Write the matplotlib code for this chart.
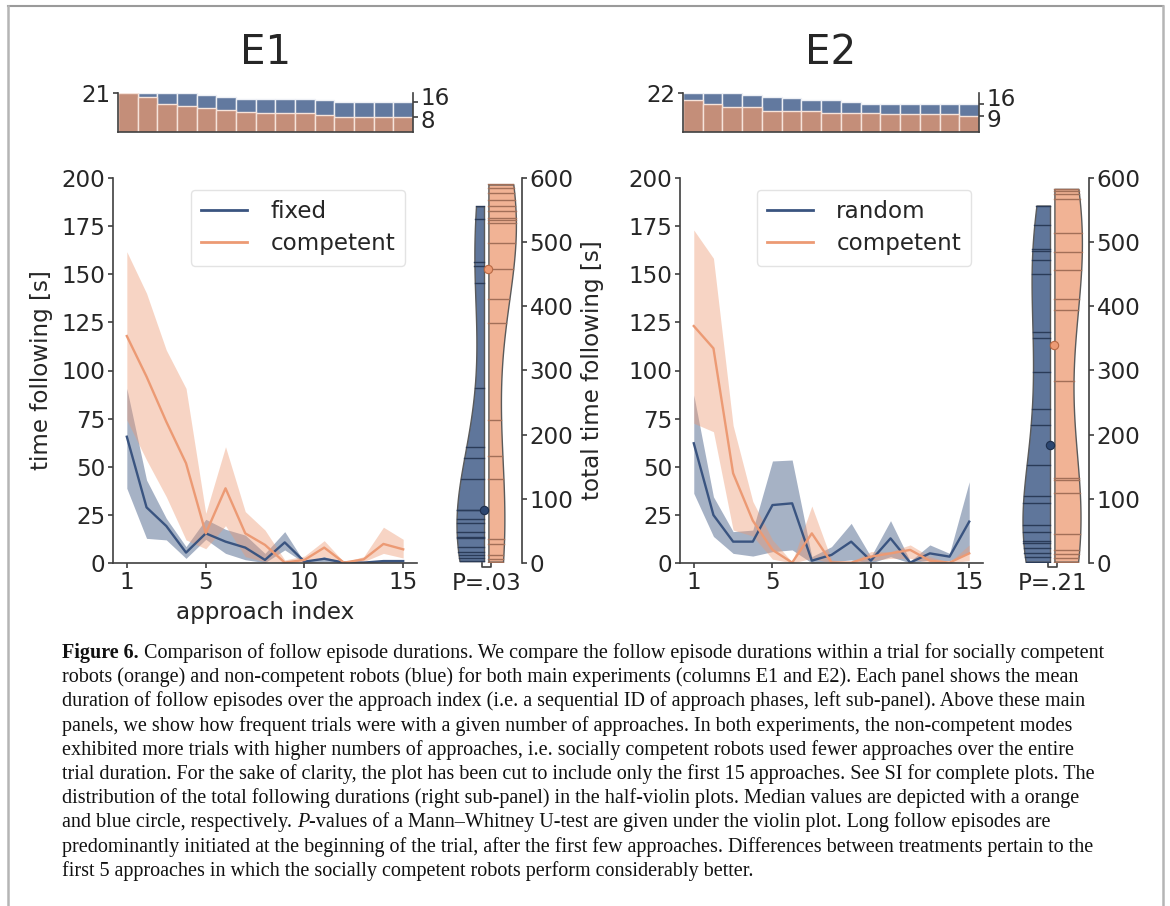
import numpy as np
import matplotlib
matplotlib.use("Agg")
import matplotlib.pyplot as plt
from matplotlib.lines import Line2D

# ---------------- DATA ----------------
approach = np.arange(1, 16)
xticks_main = [1, 5, 10, 15]

# histograms: number of trials with at least k approaches
e1_hist_fixed = [21, 21, 21, 21, 20, 19, 18, 18, 18, 18, 17, 16, 16, 16, 16]
e1_hist_comp = [21, 19, 15, 14, 13, 12, 11, 10, 10, 10, 9, 8, 8, 8, 8]
e2_hist_random = [22, 22, 22, 21, 20, 19, 18, 18, 17, 16, 16, 16, 16, 16, 16]
e2_hist_comp = [18, 16, 14, 14, 12, 12, 12, 11, 11, 11, 10, 10, 10, 10, 9]

# E1 mean time following and CI band
e1_fixed_mean = [65.6, 28.9, 19.2, 5.4, 15.4, 11.1, 8.0, 1.6, 10.7, 0.7, 2.2, 0.2, 0.2, 1.0, 1.0]
e1_fixed_lo = [38.8, 12.8, 12.0, 2.4, 12.3, 5.0, 1.7, 0.2, 6.8, 0.0, 0.7, 0.0, 0.0, 0.5, 0.5]
e1_fixed_hi = [90.7, 43.1, 23.2, 8.5, 22.7, 17.5, 14.5, 5.0, 16.3, 0.3, 3.3, 0.3, 0.5, 1.5, 1.5]
e1_comp_mean = [117.9, 96.8, 73.4, 51.8, 15.4, 38.8, 15.4, 9.4, 0.2, 1.6, 8.0, 0.2, 1.9, 9.9, 7.1]
e1_comp_lo = [74.3, 53.5, 34.4, 12.0, 7.4, 19.4, 3.3, 0.7, 0.0, 0.7, 3.3, 0.0, 0.7, 5.0, 2.6]
e1_comp_hi = [161.7, 140.1, 110.6, 90.7, 25.8, 60.4, 26.7, 17.1, 1.6, 3.6, 11.6, 0.5, 3.3, 18.6, 12.3]

# E2 mean time following and CI band
e2_rand_mean = [62.2, 24.9, 11.1, 11.1, 30.1, 31.0, 1.2, 4.2, 11.1, 1.2, 12.8, 0.2, 5.0, 3.3, 21.5]
e2_rand_lo = [36.2, 13.8, 5.0, 3.6, 5.9, 6.8, 0.0, 0.7, 1.6, 0.0, 3.3, 0.0, 1.6, 1.2, 5.0]
e2_rand_hi = [87.3, 34.4, 16.3, 17.1, 53.0, 53.5, 3.3, 8.5, 20.6, 3.3, 22.0, 1.0, 9.4, 5.0, 42.2]
e2_comp_mean = [123.1, 111.5, 46.6, 22.0, 6.8, 0.2, 15.4, 0.2, 0.2, 3.3, 5.0, 6.8, 1.2, 0.2, 5.0]
e2_comp_lo = [72.6, 68.2, 17.1, 14.0, 2.0, 0.0, 2.4, 0.0, 0.0, 1.2, 2.4, 2.4, 0.0, 0.0, 1.2]
e2_comp_hi = [173.0, 158.3, 71.4, 32.0, 12.0, 0.5, 29.6, 1.6, 0.5, 5.9, 5.9, 9.4, 3.3, 0.5, 9.4]

# total following durations per trial (violin data) [s]
e1_fixed_total = [556, 536, 469, 463, 436, 273, 181, 163, 131, 83, 82, 68, 63, 48, 40, 39, 25, 17, 12, 8, 3]
e1_comp_total = [590, 585, 576, 566, 556, 548, 538, 534, 530, 499, 458, 412, 374, 223, 166, 131, 37, 29, 12, 6, 2]
e2_rand_total = [557, 527, 489, 486, 472, 451, 360, 350, 298, 240, 215, 153, 105, 94, 60, 49, 35, 31, 23, 15, 9, 2]
e2_comp_total = [583, 580, 575, 568, 514, 484, 456, 411, 395, 283, 133, 129, 109, 45, 21, 14, 8, 2]

e1_pvalue = "P=.03"
e2_pvalue = "P=.21"
titles = ["E1", "E2"]
e1_labels = ["fixed", "competent"]
e2_labels = ["random", "competent"]

caption_lines = [
    "Comparison of follow episode durations. We compare the follow episode durations within a trial for socially competent",
    "robots (orange) and non-competent robots (blue) for both main experiments (columns E1 and E2). Each panel shows the mean",
    "duration of follow episodes over the approach index (i.e. a sequential ID of approach phases, left sub-panel). Above these main",
    "panels, we show how frequent trials were with a given number of approaches. In both experiments, the non-competent modes",
    "exhibited more trials with higher numbers of approaches, i.e. socially competent robots used fewer approaches over the entire",
    "trial duration. For the sake of clarity, the plot has been cut to include only the first 15 approaches. See SI for complete plots. The",
    "distribution of the total following durations (right sub-panel) in the half-violin plots. Median values are depicted with a orange",
    "-values of a Mann\u2013Whitney U-test are given under the violin plot. Long follow episodes are",
    "predominantly initiated at the beginning of the trial, after the first few approaches. Differences between treatments pertain to the",
    "first 5 approaches in which the socially competent robots perform considerably better.",
]

# ---------------- STYLE ----------------
plt.rcParams["font.family"] = ["DejaVu Sans"]
TXT = "#262626"
SPINE = "#3f3f3f"
BLUE = "#3a5480"
ORANGE = "#ec9a74"
BLUE_H = "#62799f"
ORANGE_H = "#c48e79"
BLUE_V = "#5f769b"
ORANGE_V = "#f1b395"
FS = 16.6

W, H = 1170, 906
fig = plt.figure(figsize=(W / 100, H / 100), dpi=100)


def px_axes(x0, y0, x1, y1):
    return fig.add_axes([x0 / W, 1 - y1 / H, (x1 - x0) / W, (y1 - y0) / H])


def style_spines(ax, show):
    for s in ["left", "right", "top", "bottom"]:
        ax.spines[s].set_visible(s in show)
        ax.spines[s].set_color(SPINE)
        ax.spines[s].set_linewidth(1.2)
    ax.tick_params(colors=SPINE, labelcolor=TXT, labelsize=FS, width=1.2, length=3.5, pad=2)


def main_panel(box, m_b, lo_b, hi_b, m_o, lo_o, hi_o, labels, ylabel, xlabel):
    ax = px_axes(*box)
    ax.fill_between(approach, lo_b, hi_b, color=BLUE, alpha=0.45, lw=0)
    ax.fill_between(approach, lo_o, hi_o, color=ORANGE, alpha=0.42, lw=0)
    ax.plot(approach, m_b, color=BLUE, lw=1.7, label=labels[0])
    ax.plot(approach, m_o, color=ORANGE, lw=1.7, label=labels[1])
    ax.set_ylim(0, 200)
    ax.set_xlim(0.3, 15.7)
    ax.set_xticks(xticks_main)
    ax.set_yticks(np.arange(0, 201, 25))
    style_spines(ax, ["left", "bottom"])
    if ylabel:
        ax.set_ylabel(ylabel, fontsize=FS, color=TXT, labelpad=6)
    if xlabel:
        ax.set_xlabel(xlabel, fontsize=FS, color=TXT, labelpad=5)
    leg = ax.legend(loc="upper right", fontsize=FS, frameon=True, fancybox=True,
                    handlelength=2.0, borderpad=0.45, labelspacing=0.4,
                    borderaxespad=0.5, handletextpad=1.0)
    leg.get_frame().set_edgecolor("#dddddd")
    leg.get_frame().set_linewidth(1.0)
    for t in leg.get_texts():
        t.set_color(TXT)
    for l in leg.get_lines():
        l.set_linewidth(2.0)
    return ax


def hist_panel(box, cnt_b, cnt_o):
    ax = px_axes(*box)
    ax.bar(approach, cnt_b, width=1.0, color=BLUE_H, edgecolor="#eef0f5", lw=1.0)
    ax.bar(approach, cnt_o, width=1.0, color=ORANGE_H, edgecolor="#f6e3da", lw=1.0)
    ax.set_xlim(0.5, 15.5)
    top = max(max(cnt_b), max(cnt_o))
    ax.set_ylim(0, top)
    ax.set_yticks([top])
    ax.set_xticks([])
    style_spines(ax, ["left", "bottom"])
    ax2 = ax.twinx()
    ax2.set_ylim(0, top)
    ax2.set_yticks([cnt_b[-1], cnt_o[-1]])
    ax2.set_yticklabels([])
    style_spines(ax2, ["right"])
    # labels of the final counts, nudged apart so they do not collide
    ax2.annotate(str(cnt_b[-1]), xy=(1, cnt_b[-1]), xycoords=("axes fraction", "data"),
                 xytext=(5.5, 3), textcoords="offset points", ha="left", va="center",
                 fontsize=FS, color=TXT, annotation_clip=False)
    ax2.annotate(str(cnt_o[-1]), xy=(1, cnt_o[-1]), xycoords=("axes fraction", "data"),
                 xytext=(5.5, -3), textcoords="offset points", ha="left", va="center",
                 fontsize=FS, color=TXT, annotation_clip=False)
    return ax


def half_violin(ax, data, x_edge, side, maxw, face, stick, dot_face, dot_edge):
    d = np.asarray(data, float)
    grid = np.linspace(d.min(), d.max(), 300)
    bw = d.std(ddof=1) * len(d) ** (-0.2)
    dens = np.exp(-0.5 * ((grid[:, None] - d[None, :]) / bw) ** 2).sum(1)
    dens = dens / dens.max() * maxw
    sgn = -1 if side == "left" else 1
    ax.fill_betweenx(grid, x_edge, x_edge + sgn * dens, facecolor=face,
                     edgecolor="#5a5a5a", lw=1.0, zorder=2)
    for v in d:
        w = np.interp(v, grid, dens)
        ax.plot([x_edge, x_edge + sgn * w], [v, v], color=stick, lw=1.0, zorder=3)
    med = np.median(d)
    ax.plot([x_edge], [med], "o", ms=6, mfc=dot_face, mec=dot_edge, mew=0.8, zorder=4)


def violin_panel(box, d_b, d_o, center, ptxt, ylabel):
    ax = px_axes(*box)
    ax.set_xlim(box[0], box[2])
    ax.set_ylim(0, 600)
    gap = 2.2
    half_violin(ax, d_b, center - gap, "left", 27.5, BLUE_V, "#2a3b58", "#2c4670", "#1e2f4d")
    half_violin(ax, d_o, center + gap, "right", 27.5, ORANGE_V, "#a26f58", ORANGE, "#b86a45")
    style_spines(ax, ["right"])
    ax.yaxis.tick_right()
    ax.set_yticks(np.arange(0, 601, 100))
    ax.set_xticks([])
    ax.plot([center - 4.5, center - 4.5, center + 4.5, center + 4.5], [0, -6.5, -6.5, 0],
            color=SPINE, lw=1.2, clip_on=False)
    ax.text(center, -32, ptxt, ha="center", va="center", fontsize=FS, color=TXT, clip_on=False)
    if ylabel:
        ax.yaxis.set_label_position("right")
        ax.set_ylabel(ylabel, fontsize=FS, color=TXT, labelpad=5)
    return ax


# ---------------- E1 ----------------
a1 = main_panel((113, 178, 417, 563), e1_fixed_mean, e1_fixed_lo, e1_fixed_hi,
                e1_comp_mean, e1_comp_lo, e1_comp_hi, e1_labels,
                "time following [s]", "approach index")
h1 = hist_panel((118, 93, 413, 132), e1_hist_fixed, e1_hist_comp)
h1.set_title(titles[0], fontsize=29, color=TXT, pad=21)
v1 = violin_panel((440, 178, 522, 563), e1_fixed_total, e1_comp_total, 486.2, e1_pvalue,
                  "total time following [s]")

# ---------------- E2 ----------------
a2 = main_panel((680, 178, 983, 563), e2_rand_mean, e2_rand_lo, e2_rand_hi,
                e2_comp_mean, e2_comp_lo, e2_comp_hi, e2_labels, None, None)
h2 = hist_panel((683, 93, 979, 132), e2_hist_random, e2_hist_comp)
h2.set_title(titles[1], fontsize=29, color=TXT, pad=21)
v2 = violin_panel((1007, 178, 1089, 563), e2_rand_total, e2_comp_total, 1052.2, e2_pvalue, None)

# ---------------- border ----------------
bc = "#b5b5b5"
fig.add_artist(Line2D([8 / W, 1163 / W], [1 - 6 / H, 1 - 6 / H], color="#9a9a9a", lw=1.5))
fig.add_artist(Line2D([8 / W, 8 / W], [0, 1 - 6 / H], color=bc, lw=1.8))
fig.add_artist(Line2D([1163 / W, 1163 / W], [0, 1 - 6 / H], color=bc, lw=1.8))

# ---------------- caption ----------------
ov = fig.add_axes([0, 0, 1, 1])
ov.axis("off")
ov.set_xlim(0, W)
ov.set_ylim(H, 0)
CF = ["Liberation Serif", "DejaVu Serif"]
CS = 14.5
CC = "#111111"
x0 = 62
base0 = 658
step = 24.2
for i, line in enumerate(caption_lines):
    y = base0 + i * step
    if i == 0:
        t = ov.text(x0, y, "Figure 6.", family=CF, weight="bold", size=CS, color=CC, va="baseline")
        ov.annotate(" " + line, xy=(1, 0), xycoords=t, va="bottom", ha="left",
                    family=CF, size=CS, color=CC)
    elif i == 7:
        t = ov.text(x0, y, "and blue circle, respectively. ", family=CF, size=CS, color=CC, va="baseline")
        t2 = ov.annotate("P", xy=(1, 0), xycoords=t, va="bottom", ha="left",
                         family=CF, style="italic", size=CS, color=CC)
        ov.annotate(line, xy=(1, 0), xycoords=t2, va="bottom", ha="left",
                    family=CF, size=CS, color=CC)
    else:
        ov.text(x0, y, line, family=CF, size=CS, color=CC, va="baseline")

fig.savefig("out.png", dpi=100, facecolor="white")
